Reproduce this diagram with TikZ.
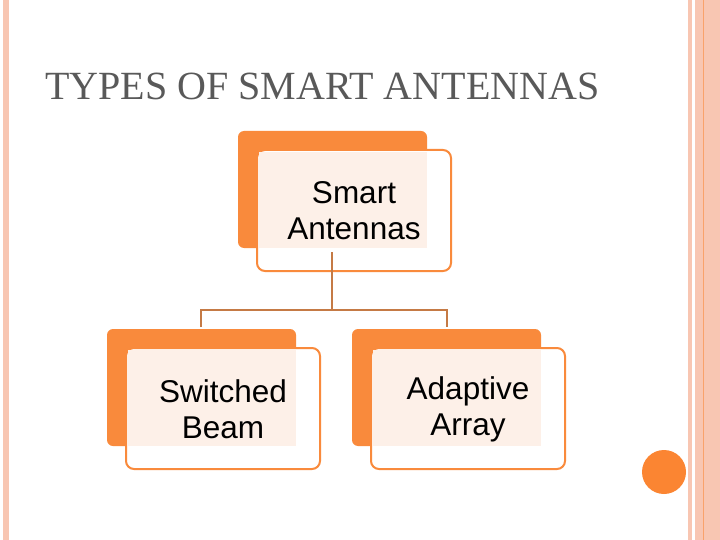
\documentclass[tikz,border=0pt]{standalone}
\usepackage{fontspec}
\setmainfont{Liberation Serif}
\newfontfamily\arial{Liberation Sans}
\begin{document}
\begin{tikzpicture}[x=1pt,y=-1pt,
  backbox/.style={fill=orB,rounded corners=6pt},
  frontbox/.style={fill=white,draw=orB,line width=2pt,rounded corners=8pt},
  tint/.style={fill=peach},
  lbl/.style={font=\arial\fontsize{31.5}{36}\selectfont,align=center,text=black},
  conn/.style={draw=brn,line width=2pt}]
\definecolor{orB}{HTML}{F98A3C}
\definecolor{peach}{HTML}{FDF0E8}
\definecolor{brn}{HTML}{C57A45}
\definecolor{stripe}{HTML}{F8C6B2}
\definecolor{circ}{HTML}{FB8532}
\useasboundingbox (0,0) rectangle (720,540);
\fill[white] (0,0) rectangle (720,540);
% borders
\fill[stripe] (3,0) rectangle (9,540);
\fill[stripe] (688,0) rectangle (692,540);
\fill[stripe] (695,0) rectangle (720,540);
\draw[orB!60!stripe,line width=1pt] (703,0) -- (703,540);
\fill[circ] (664,472) circle (22);
\node[anchor=base west,font=\fontsize{40}{46}\selectfont,text=black!65,inner sep=0] (title) at (45,100) {TYPES OF SMART ANTENNAS};
% top
\fill[backbox] (238,131) rectangle (427,248);
\draw[frontbox] (257,150) rectangle (451,271);
\fill[tint] (259,152) rectangle (427,248);
\node[lbl] (top) at (354,211) {Smart\\Antennas};
% left
\fill[backbox] (107,329) rectangle (296,446);
\draw[frontbox] (126,348) rectangle (320,469);
\fill[tint] (128,350) rectangle (296,446);
\node[lbl] (sb) at (223,409) {Switched\\Beam};
% right
\fill[backbox] (352,329) rectangle (541,446);
\draw[frontbox] (371,348) rectangle (565,469);
\fill[tint] (373,350) rectangle (541,446);
\node[lbl] (aa) at (468,409) {Adaptive\\Array};
% connectors
\coordinate (t0) at (332,252);
\coordinate (j) at (332,310);
\coordinate (l0) at (201,327);
\coordinate (r0) at (447,327);
\draw[conn] (t0) -- (j);
\draw[conn] (l0) |- (j) -| (r0);
\end{tikzpicture}
\end{document}
